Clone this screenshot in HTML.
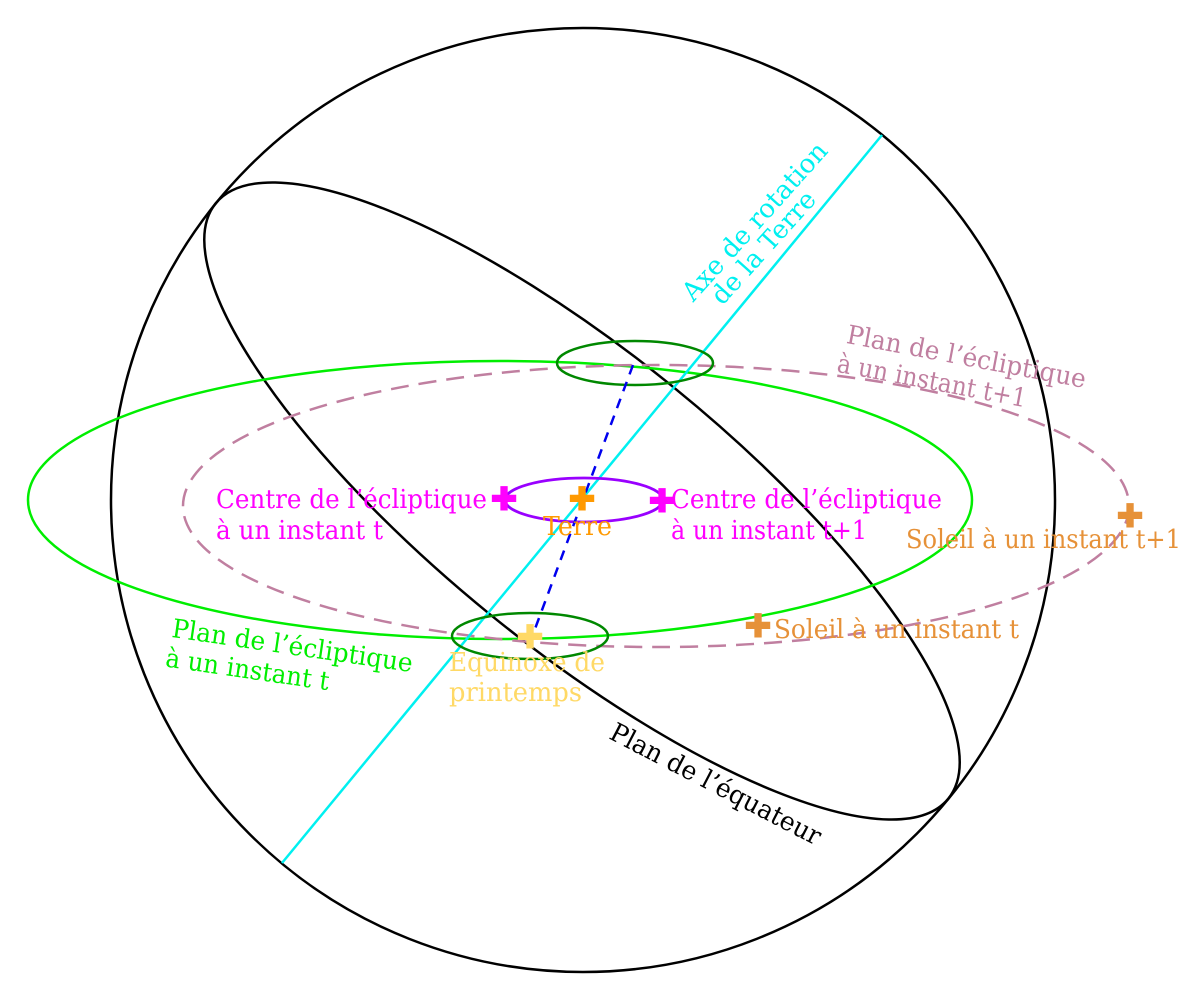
<!DOCTYPE html>
<html><head><meta charset="utf-8"><style>body{margin:0;background:#fff}svg{display:block}text{font-family:"DejaVu Serif","Liberation Serif",serif;font-size:26px}.c{font-family:"Liberation Sans",sans-serif;font-weight:bold;font-size:32px}</style></head>
<body>
<svg width="1185" height="982" viewBox="0 0 1185 982" xmlns="http://www.w3.org/2000/svg">
<circle cx="583" cy="500" r="472" fill="none" stroke="#000" stroke-width="2.5"/>
<ellipse cx="582" cy="501" rx="472" ry="146" transform="rotate(39.1 582 501)" fill="none" stroke="#000" stroke-width="2.5"/>
<ellipse cx="500" cy="500" rx="472" ry="139" fill="none" stroke="#00ee00" stroke-width="2.5"/>
<ellipse cx="656" cy="506" rx="473" ry="141" fill="none" stroke="#c07fa0" stroke-width="2.5" stroke-dasharray="18,10"/>
<line x1="282" y1="863" x2="882" y2="135" stroke="#00f0f0" stroke-width="2.5"/>
<ellipse cx="635" cy="363" rx="78" ry="22" fill="none" stroke="#008800" stroke-width="2.5"/>
<ellipse cx="530" cy="636" rx="78" ry="23" fill="none" stroke="#008800" stroke-width="2.5"/>
<ellipse cx="584" cy="500" rx="79" ry="22" fill="none" stroke="#9900ff" stroke-width="2.8"/>
<line x1="633" y1="365" x2="532" y2="637" stroke="#0000ee" stroke-width="2.5" stroke-dasharray="10,8"/>
<g text-anchor="middle" dominant-baseline="central">
<text class="c" x="504" y="499" fill="#ff00ff">✚</text>
<text class="c" x="662" y="501" fill="#ff00ff">✚</text>
<text class="c" x="582" y="499" fill="#ff9900">✚</text>
<text class="c" x="530" y="637" fill="#ffd966">✚</text>
<text class="c" x="758" y="626" fill="#e69138">✚</text>
<text class="c" x="1130" y="516" fill="#e69138">✚</text>
</g>
<text x="216" y="508" fill="#ff00ff" textLength="271" lengthAdjust="spacingAndGlyphs">Centre de l’écliptique</text>
<text x="216" y="539" fill="#ff00ff" textLength="167" lengthAdjust="spacingAndGlyphs">à un instant t</text>
<text x="671" y="508" fill="#ff00ff" textLength="271" lengthAdjust="spacingAndGlyphs">Centre de l’écliptique</text>
<text x="671" y="539" fill="#ff00ff" textLength="196" lengthAdjust="spacingAndGlyphs">à un instant t+1</text>
<text x="543" y="535" fill="#ff9900" textLength="69" lengthAdjust="spacingAndGlyphs">Terre</text>
<text x="906" y="548" fill="#e69138" textLength="275" lengthAdjust="spacingAndGlyphs">Soleil à un instant t+1</text>
<text x="774" y="638" fill="#e69138" textLength="245" lengthAdjust="spacingAndGlyphs">Soleil à un instant t</text>
<text x="449" y="671" fill="#ffd966" textLength="156" lengthAdjust="spacingAndGlyphs">Equinoxe de</text>
<text x="449" y="701" fill="#ffd966" textLength="133" lengthAdjust="spacingAndGlyphs">printemps</text>
<g transform="rotate(8.3 172 630)"><text x="172" y="637" fill="#00ee00" textLength="243" lengthAdjust="spacingAndGlyphs">Plan de l’écliptique</text><text x="170" y="667" fill="#00ee00" textLength="165" lengthAdjust="spacingAndGlyphs">à un instant t</text></g>
<g transform="rotate(10.7 847 335)"><text x="847" y="343" fill="#c07fa0" textLength="243" lengthAdjust="spacingAndGlyphs">Plan de l’écliptique</text><text x="843" y="373" fill="#c07fa0" textLength="192" lengthAdjust="spacingAndGlyphs">à un instant t+1</text></g>
<g transform="rotate(27.4 612 730)"><text x="612" y="739" fill="#000" textLength="234" lengthAdjust="spacingAndGlyphs">Plan de l’équateur</text></g>
<g transform="rotate(-48 688 298)"><text x="688" y="305" fill="#00f0f0" textLength="203" lengthAdjust="spacingAndGlyphs">Axe de rotation</text><text x="705" y="329" fill="#00f0f0" textLength="142" lengthAdjust="spacingAndGlyphs">de la Terre</text></g>
</svg>
</body></html>
